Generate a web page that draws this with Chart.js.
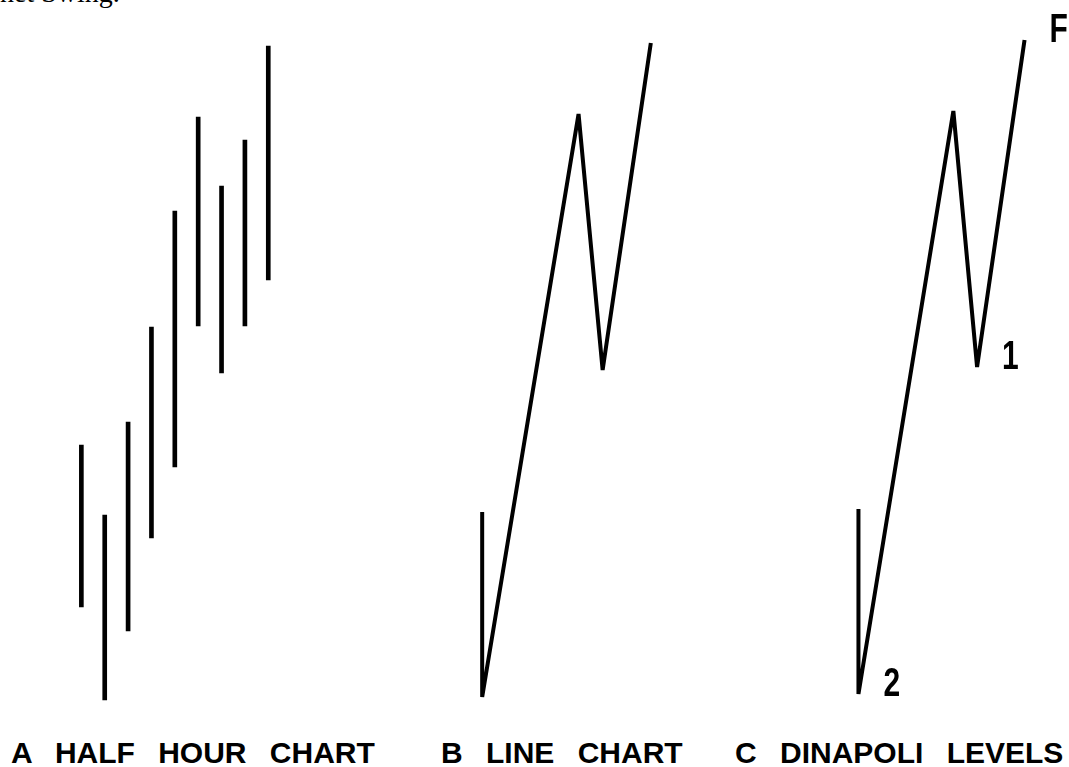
<!DOCTYPE html>
<html>
<head>
<meta charset="utf-8">
<script src="https://cdn.jsdelivr.net/npm/chart.js@4.4.1/dist/chart.umd.min.js"></script>
<style>
    html, body { margin: 0; padding: 0; background: #fff; overflow: hidden; width: 1069px; height: 767px; }
    .panel { position: absolute; }
    .caption { position: absolute; top: 738px; font: bold 30px "Liberation Sans", Arial, sans-serif; line-height: 30px; word-spacing: 15px; white-space: pre; color: #000; }
    .header { position: absolute; left: 0; top: -21px; font: 28px "Liberation Serif", "Times New Roman", serif; line-height: 28px; white-space: pre; color: #000; }
</style>
</head>
<body>
<div class="header">het Swing.</div>
<canvas id="chartA" class="panel" width="257" height="720" style="left:58px; top:0px;"></canvas>
<canvas id="chartB" class="panel" width="265" height="720" style="left:434px; top:-3px;"></canvas>
<canvas id="chartC" class="panel" width="261" height="720" style="left:811px; top:-6px;"></canvas>
<div class="caption" id="capA" style="left:11px;"></div>
<div class="caption" id="capB" style="left:441px;"></div>
<div class="caption" id="capC" style="left:735px;"></div>
<script>
// half hour bars (index, high, low)
const barIndex = [1, 2, 3, 4, 5, 6, 7, 8, 9];
const barHigh = [27.5, 20.5, 29.8, 39.3, 50.9, 60.3, 53.4, 58.0, 67.4];
const barLow = [11.3, 2.0, 8.9, 18.2, 25.3, 39.4, 34.7, 39.4, 44.0];

// swing points used by the line chart
const swingIndex = [2, 2, 6, 7, 9];
const swingPrice = [20.5, 2.0, 60.3, 34.7, 67.4];
const levelLabels = ['', '2', '', '1', 'F'];

const captions = ['A HALF HOUR CHART', 'B LINE CHART', 'C DINAPOLI LEVELS'];

Chart.defaults.animation = false;

function baseOptions() {
    return {
        responsive: false,
        animation: false,
        layout: { padding: 0 },
        plugins: { legend: { display: false }, tooltip: { enabled: false } },
        scales: {
            x: { type: 'linear', min: 0, max: 11, offset: false, display: false },
            y: { type: 'linear', min: 0, max: 72, display: false }
        }
    };
}

function createBarChart(id) {
    const ctx = document.getElementById(id).getContext('2d');
    new Chart(ctx, {
        type: 'bar',
        data: {
            datasets: [{
                data: barIndex.map((x, i) => ({ x: x, y: [barLow[i], barHigh[i]] })),
                backgroundColor: '#000',
                borderWidth: 0,
                barThickness: 4,
                clip: false
            }]
        },
        options: baseOptions()
    });
}

function createLineChart(id, labels) {
    const labelPlugin = {
        id: 'levelLabels',
        afterDatasetsDraw(chart) {
            if (!labels) return;
            const c = chart.ctx;
            const xs = chart.scales.x, ys = chart.scales.y;
            c.save();
            c.fillStyle = '#000';
            c.font = 'bold 40px "Liberation Sans", Arial, sans-serif';
            c.textBaseline = 'alphabetic';
            labels.forEach((txt, i) => {
                if (!txt) return;
                const px = xs.getPixelForValue(swingIndex[i]) + 25;
                const py = ys.getPixelForValue(swingPrice[i]) + 2;
                c.save();
                c.translate(px, py);
                c.scale(0.75, 1);
                c.fillText(txt, 0, 0);
                c.restore();
            });
            c.restore();
        }
    };

    const ctx = document.getElementById(id).getContext('2d');
    new Chart(ctx, {
        type: 'line',
        data: {
            datasets: [{
                data: swingIndex.map((x, i) => ({ x: x, y: swingPrice[i] })),
                borderColor: '#000',
                borderWidth: 4,
                borderJoinStyle: 'bevel',
                pointRadius: 0,
                tension: 0,
                fill: false,
                clip: false
            }]
        },
        options: baseOptions(),
        plugins: [labelPlugin]
    });
}

document.addEventListener('DOMContentLoaded', function() {
    createBarChart('chartA');
    createLineChart('chartB', null);
    createLineChart('chartC', levelLabels);

    document.getElementById('capA').textContent = captions[0];
    document.getElementById('capB').textContent = captions[1];
    document.getElementById('capC').textContent = captions[2];
});
</script>
</body>
</html>
